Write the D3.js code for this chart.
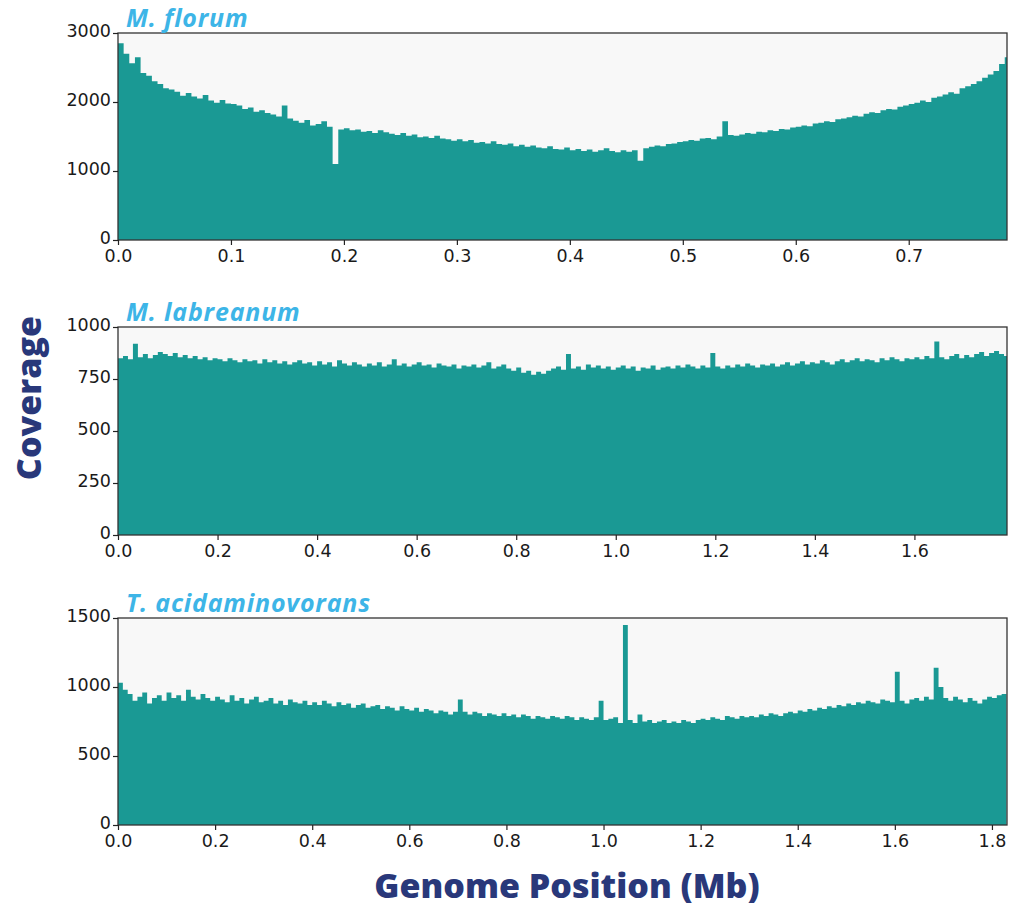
<!doctype html>
<html>
<head>
<meta charset="utf-8">
<title>Coverage</title>
<script src="https://cdn.jsdelivr.net/npm/d3@7"></script>
<style>
    body { margin: 0; background: #fff; }
    .tick text { font-family: "DejaVu Sans", sans-serif; font-size: 17.5px; fill: #1a1a1a; }
    .tick line { stroke: #222; stroke-width: 1.2; }
    .domain { display: none; }
    .title { font-family: "Open Sans", sans-serif; font-size: 25px; font-weight: 700; font-style: italic; fill: #3db5e7; letter-spacing: 0.8px; }
    .axis-label { font-family: "Open Sans", sans-serif; font-size: 34px; font-weight: 800; fill: #29387a; }
</style>
</head>
<body>
<div id="chart"></div>
<script>
// coverage per bin
var florumBin = 0.005; // Mb
var florumCov = [
    2850, 2700, 2560, 2650, 2420, 2380, 2300, 2260, 2200, 2180,
    2150, 2090, 2130, 2080, 2050, 2100, 2020, 1990, 2030, 1980,
    1970, 1950, 1900, 1920, 1860, 1880, 1840, 1820, 1790, 1950,
    1760, 1730, 1700, 1740, 1660, 1680, 1720, 1640, 1100, 1600,
    1620, 1590, 1600, 1570, 1580, 1550, 1590, 1560, 1540, 1520,
    1550, 1510, 1530, 1490, 1500, 1480, 1510, 1470, 1460, 1440,
    1460, 1430, 1450, 1410, 1420, 1400, 1430, 1390, 1380, 1400,
    1360, 1380, 1350, 1370, 1340, 1330, 1360, 1320, 1310, 1340,
    1300, 1320, 1290, 1310, 1280, 1300, 1330, 1290, 1270, 1300,
    1280, 1300, 1150, 1330, 1350, 1370, 1360, 1390, 1400, 1420,
    1430, 1450, 1440, 1470, 1480, 1460, 1500, 1720, 1520, 1510,
    1530, 1550, 1540, 1570, 1560, 1590, 1580, 1610, 1600, 1630,
    1640, 1660, 1650, 1690, 1700, 1720, 1710, 1750, 1760, 1780,
    1800, 1790, 1830, 1850, 1840, 1880, 1900, 1890, 1930, 1950,
    1970, 1990, 2020, 2000, 2060, 2080, 2110, 2140, 2120, 2200,
    2230, 2260, 2300, 2350, 2400, 2450, 2550, 2650
];

var labreanumBin = 0.01;
var labreanumCov = [
    850, 860, 845, 920, 855, 870, 850, 865, 880, 870,
    860, 875, 855, 865, 850, 860, 845, 855, 840, 850,
    845, 835, 850, 840, 830, 845, 835, 840, 825, 845,
    830, 840, 825, 835, 820, 830, 840, 825, 830, 815,
    835, 820, 830, 810, 840, 825, 815, 830, 820, 810,
    825, 815, 830, 810, 820, 845, 815, 825, 810, 820,
    830, 815, 820, 805, 825, 815, 810, 820, 800, 815,
    810, 820, 805, 815, 830, 800, 810, 820, 800, 790,
    805, 780, 790, 770, 785, 775, 790, 800, 810, 795,
    870, 800, 810, 795, 820, 805, 815, 800, 810, 795,
    805, 815, 800, 810, 790, 805, 800, 815, 795, 805,
    810, 800, 815, 805, 820, 810, 800, 815, 805, 875,
    810, 800, 815, 805, 820, 810, 825, 815, 805, 820,
    815, 825, 810, 820, 830, 815, 825, 835, 820, 830,
    825, 840, 830, 820, 835, 845, 830, 840, 850, 835,
    845, 840, 830, 850, 840, 855, 845, 835, 850, 845,
    855, 845, 860, 850, 930, 855, 845, 860, 870, 850,
    865, 855, 870, 880, 860, 875, 885, 870, 860
];

var acidBin = 0.01;
var acidCov = [
    1030, 980, 950, 900, 930, 960, 880, 920, 940, 900,
    960, 920, 940, 900, 980, 930, 910, 950, 920, 900,
    930, 910, 890, 940, 900, 920, 880, 910, 930, 890,
    900, 920, 880, 900, 870, 910, 890, 880, 900, 870,
    890, 870, 900, 880, 860, 890, 870, 880, 850, 870,
    880, 850, 860, 870, 840, 860, 850, 830, 860, 840,
    830, 850, 820, 840, 830, 810, 830, 820, 800, 820,
    910, 820, 800, 820, 810, 790, 810, 800, 790, 810,
    790, 800, 780, 800, 790, 770, 790, 780, 770, 790,
    780, 770, 790, 780, 760, 780, 770, 760, 780, 900,
    760, 770, 780, 740, 1450, 760, 740, 800, 750, 760,
    740, 750, 760, 740, 750, 740, 760, 750, 740, 760,
    770, 760, 780, 770, 760, 790, 780, 770, 790, 780,
    790, 780, 800, 790, 810, 800, 790, 810, 820, 810,
    830, 820, 840, 830, 850, 840, 860, 850, 870, 860,
    880, 870, 890, 880, 900, 890, 880, 910, 900, 890,
    1110, 900, 880, 910, 920, 900, 930, 910, 1140, 1000,
    920, 900, 930, 910, 890, 920, 900, 880, 910, 930,
    920, 940, 950
];

var florumXTicks = [0, 0.1, 0.2, 0.3, 0.4, 0.5, 0.6, 0.7];
var florumYTicks = [0, 1000, 2000, 3000];
var labreanumXTicks = [0, 0.2, 0.4, 0.6, 0.8, 1.0, 1.2, 1.4, 1.6];
var labreanumYTicks = [0, 250, 500, 750, 1000];
var acidXTicks = [0, 0.2, 0.4, 0.6, 0.8, 1.0, 1.2, 1.4, 1.6, 1.8];
var acidYTicks = [0, 500, 1000, 1500];

var panels = [
    { name: "M. florum", bin: florumBin, cov: florumCov, xMax: 0.787, yMax: 3000,
      xTicks: florumXTicks, yTicks: florumYTicks, top: 33, bottom: 240 },
    { name: "M. labreanum", bin: labreanumBin, cov: labreanumCov, xMax: 1.786, yMax: 1000,
      xTicks: labreanumXTicks, yTicks: labreanumYTicks, top: 327, bottom: 535 },
    { name: "T. acidaminovorans", bin: acidBin, cov: acidCov, xMax: 1.831, yMax: 1500,
      xTicks: acidXTicks, yTicks: acidYTicks, top: 618, bottom: 825 }
];

var W = 1021, H = 909;
var left = 118, right = 1007;

var svg = d3.select("#chart").append("svg")
    .attr("width", W)
    .attr("height", H);

panels.forEach(function(p, k) {
    var x = d3.scaleLinear().domain([0, p.xMax]).range([left, right]);
    var y = d3.scaleLinear().domain([0, p.yMax]).range([p.bottom, p.top]);

    var g = svg.append("g");

    // plot background
    g.append("rect")
        .attr("x", left).attr("y", p.top)
        .attr("width", right - left).attr("height", p.bottom - p.top)
        .attr("fill", "#f8f8f8");

    g.append("clipPath").attr("id", "clip" + k)
        .append("rect")
        .attr("x", left).attr("y", p.top)
        .attr("width", right - left).attr("height", p.bottom - p.top);

    // coverage histogram drawn as one stepped area (no seams between bins)
    var pts = p.cov.map(function(v, i) { return { pos: i * p.bin, v: v }; });
    pts.push({ pos: p.cov.length * p.bin, v: p.cov[p.cov.length - 1] });

    var area = d3.area()
        .x(function(d) { return x(d.pos); })
        .y0(p.bottom)
        .y1(function(d) { return y(d.v); })
        .curve(d3.curveStepAfter);

    g.append("path")
        .datum(pts)
        .attr("clip-path", "url(#clip" + k + ")")
        .attr("d", area)
        .attr("fill", "#1a9994");

    // frame
    g.append("rect")
        .attr("x", left).attr("y", p.top)
        .attr("width", right - left).attr("height", p.bottom - p.top)
        .attr("fill", "none")
        .attr("stroke", "#333")
        .attr("stroke-width", 1.3);

    // axes
    g.append("g")
        .attr("transform", "translate(0," + p.bottom + ")")
        .call(d3.axisBottom(x).tickValues(p.xTicks).tickFormat(d3.format(".1f")).tickSize(5).tickPadding(5));

    g.append("g")
        .attr("transform", "translate(" + left + ",0)")
        .call(d3.axisLeft(y).tickValues(p.yTicks).tickFormat(d3.format("d")).tickSize(5).tickPadding(2))
        .selectAll("text")
        .attr("dy", "0.22em");

    // panel title
    g.append("text")
        .attr("class", "title")
        .attr("x", 126)
        .attr("y", p.top - 6)
        .text(p.name);
});

// shared axis labels
svg.append("text")
    .attr("class", "axis-label")
    .attr("transform", "translate(41,398) rotate(-90)")
    .attr("text-anchor", "middle")
    .text("Coverage");

svg.append("text")
    .attr("class", "axis-label")
    .attr("x", 567)
    .attr("y", 898)
    .attr("text-anchor", "middle")
    .text("Genome Position (Mb)");
</script>
</body>
</html>
